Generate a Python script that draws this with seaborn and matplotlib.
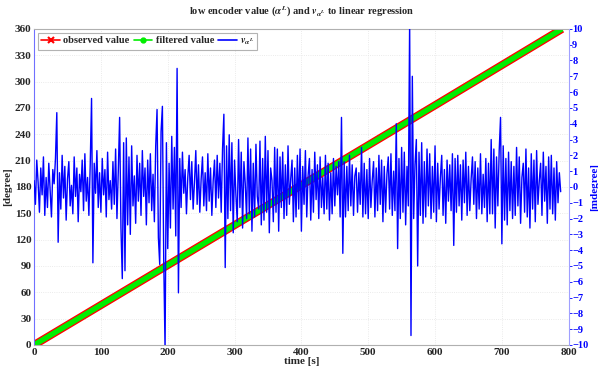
import numpy as np
import pandas as pd
import matplotlib
matplotlib.use('Agg')
import matplotlib.pyplot as plt
from matplotlib.lines import Line2D
import seaborn as sns

# encoder ramp (observed and filtered values)
ramp_time = [0, 200, 400, 600, 790]
observed_deg = [0, 91, 182, 273, 360]
filtered_deg = [0, 91, 182, 273, 360]

# residual v_alpha^L in mdegree, one value every 2 s
residual_mdeg = [
    0.4, -1.1, 1.7, 0.3, -1.6, 1.2, -0.5, 1.9, -1.8, 0.6,
    -1.3, 1.5, -0.2, -1.9, 1.1, 0.2, 1.8, 4.7, -3.5, 0.9,
    -1.4, 2.0, -0.7, 1.3, -2.1, 0.5, 1.6, -1.2, 0.1, -1.7,
    1.9, -0.6, 1.2, -2.2, 0.8, -0.3, 1.7, -1.5, 2.1, -0.9,
    0.6, -1.8, 1.4, 5.6, -4.8, 1.5, -0.4, 2.3, -1.3, 0.9,
    -1.6, 1.8, -0.5, 1.1, -1.9, 2.2, -0.8, 0.4, -1.4, 1.6,
    -1.1, 2.4, -2.0, 1.0, 4.4, -2.6, -5.8, 2.8, -5.3, 3.1,
    -2.4, 1.9, -3.0, 2.6, -1.2, 0.7, -2.3, 2.0, -0.9, 1.5,
    -1.8, 2.3, -0.6, 1.2, -2.4, 1.7, -1.0, 2.1, -1.5, 0.8,
    -2.2, 2.6, 4.9, -3.2, -4.9, 3.5, 5.1, -4.6, -10.3, 2.8,
    -3.9, 1.5, -2.6, 3.2, -1.4, 2.5, -3.1, 7.5, -6.7, 1.8,
    -1.3, 2.2, -0.4, 1.1, -1.7, 0.6, 2.0, -0.8, 1.6, -1.4,
    0.3, 2.3, -1.1, 1.4, -1.6, 0.5, 1.9, -1.2, 0.9, -1.5,
    2.1, -0.9, 1.2, -1.8, 0.4, 1.7, -1.3, 2.0, -0.7, 1.5,
    -1.6, 2.4, 4.6, -5.1, 2.6, -2.0, 3.3, -1.5, 2.8, -2.9,
    1.7, -0.5, -2.2, 3.0, -1.3, 2.2, -2.6, 1.6, 0.2, -2.0,
    3.1, -1.7, 2.4, -2.8, 1.5, -1.9, 2.7, -0.6, -1.4, 2.9,
    -2.4, 1.8, -2.1, 3.2, -1.6, 2.3, -2.9, 1.2, 0.4, -2.2,
    2.5, -1.6, 2.4, -2.8, 1.9, -1.3, 2.2, -2.0, 1.4, -1.8,
    2.6, -1.1, 0.5, 1.7, -2.2, 1.2, -1.9, 2.0, -1.4, 2.4,
    -2.8, 1.3, -1.1, 2.3, -1.9, 0.7, 1.8, -2.1, 1.1, -1.6,
    2.2, -0.8, 1.4, -2.0, 1.9, -1.3, 0.6, -1.7, 2.0, -1.4,
    1.5, -2.1, 0.9, -1.7, 1.8, -1.2, 1.3, -0.5, 1.6, -1.9,
    4.4, -4.2, 1.6, -1.9, 1.3, -1.5, 2.0, -1.2, 1.4, -1.8,
    0.7, 1.2, -1.6, 0.9, -1.1, 2.5, -1.9, 1.5, -1.7, 1.1,
    -2.0, 1.8, -1.3, 0.4, 1.6, -1.9, 1.2, -1.5, 2.0, -1.1,
    1.7, -2.2, 1.3, -1.6, 0.8, 1.9, -1.4, 2.1, -1.8, 1.0,
    -1.5, 4.0, -3.9, 1.8, -2.0, 2.5, -1.6, 2.2, -2.4, 1.3,
    -1.2, 10.5, -9.4, 7.0, -2.0, 1.4, 3.0, -5.0, 2.2, -1.8,
    2.8, -2.3, 1.6, -1.9, 2.4, -1.2, 2.1, -2.0, 1.3, -1.6,
    2.6, -2.2, 1.5, -1.4, 0.6, 2.0, -1.8, 1.1, -2.3, 1.7,
    -0.9, 1.4, -1.5, 2.1, -3.7, 1.8, -1.6, 2.0, -1.2, 1.4,
    -2.1, 1.7, -1.0, 2.2, -1.8, 1.3, -1.5, 0.5, 1.9, -1.1,
    1.6, -2.0, 1.2, -1.4, 2.1, -1.7, 0.8, -1.3, 1.8, -2.2,
    1.5, -1.7, 3.0, -1.7, 2.4, -2.6, 1.9, -1.2, 2.3, 4.4,
    -3.6, 2.6, -2.1, 1.8, -2.4, 2.2, -1.5, 1.6, -2.0, 1.3,
    -1.8, 2.5, -1.2, 1.9, -2.3, 0.6, 1.5, -1.6, 2.4, -1.9,
    1.2, -2.6, 2.1, -1.4, 1.7, -2.2, 2.3, -1.1, 0.4, 1.5,
    -1.8, 2.2, -0.9, 1.3, -2.3, 1.9, -1.4, 2.0, -1.7, 1.2,
    -2.1, 1.6, -1.0, 0.9, -0.3,
]
residual_time = np.arange(len(residual_mdeg)) * 2

ramp = pd.DataFrame({'time': ramp_time, 'observed': observed_deg, 'filtered': filtered_deg})
resid = pd.DataFrame({'time': residual_time, 'v': residual_mdeg})

sns.set_style('white')
plt.rcParams['font.family'] = ['Liberation Serif', 'DejaVu Serif']
plt.rcParams['font.weight'] = 'bold'
plt.rcParams['mathtext.fontset'] = 'stix'

fig = plt.figure(figsize=(5.98, 3.68), dpi=100)
ax = fig.add_axes([0.057, 0.0625, 0.894, 0.859])

# left axis: ramp drawn as a thick red band with a green core
sns.lineplot(data=ramp, x='time', y='observed', ax=ax, color='red', lw=5.8,
             solid_capstyle='butt', legend=False)
sns.lineplot(data=ramp, x='time', y='filtered', ax=ax, color='#00ee00', lw=3.9,
             solid_capstyle='butt', legend=False)
ax.set_xlim(0, 800)
ax.set_ylim(0, 360)
ax.set_xticks(range(0, 801, 100))
ax.set_yticks(range(0, 361, 30))
ax.grid(True, color='#e4e4e4', lw=0.6, ls=':')
ax.set_xlabel('time [s]', fontsize=8, fontweight='bold', labelpad=0)
ax.set_ylabel('[degree]', fontsize=8, fontweight='bold', labelpad=2)
ax.tick_params(labelsize=8, length=0, pad=2)
for side in ['top', 'bottom']:
    ax.spines[side].set_color('#b0b0b0')
ax.spines['left'].set_color('#7070ff')
ax.spines['right'].set_visible(False)

# right axis: residual
ax2 = ax.twinx()
sns.lineplot(data=resid, x='time', y='v', ax=ax2, color='blue', lw=1.0, legend=False)
ax2.set_ylim(-10, 10)
ax2.set_yticks(range(-10, 11, 1))
ax2.set_xlim(0, 800)
ax2.set_ylabel('[mdegree]', fontsize=8, fontweight='bold', color='blue', labelpad=1)
ax2.tick_params(axis='y', labelsize=7.5, colors='blue', length=2, width=0.6, pad=0.5)
ax2.spines['right'].set_color('#a0a0ff')
ax2.spines['left'].set_visible(False)
ax2.spines['top'].set_visible(False)
ax2.spines['bottom'].set_visible(False)

ax.set_title(r'low encoder value ($\alpha^{L}$) and $v_{\alpha^{L}}$ to linear regression',
             fontsize=7.5, fontweight='bold', pad=10)

handles = [
    Line2D([], [], color='red', lw=1.2, marker='x', markersize=5, markeredgewidth=1.5),
    Line2D([], [], color='#00ee00', lw=1.2, marker='o', markersize=3.5),
    Line2D([], [], color='blue', lw=1.2),
]
leg = ax2.legend(handles, ['observed value', 'filtered value', r'$v_{\alpha^{L}}$'],
                 loc='upper left', ncol=3, fontsize=7.5, frameon=True, fancybox=False,
                 handlelength=1.8, handletextpad=0.3, columnspacing=0.4,
                 borderpad=0.3, borderaxespad=0.4)
leg.get_frame().set_edgecolor('#a0a0a0')
leg.get_frame().set_linewidth(0.8)

fig.savefig('out.png', dpi=100)
